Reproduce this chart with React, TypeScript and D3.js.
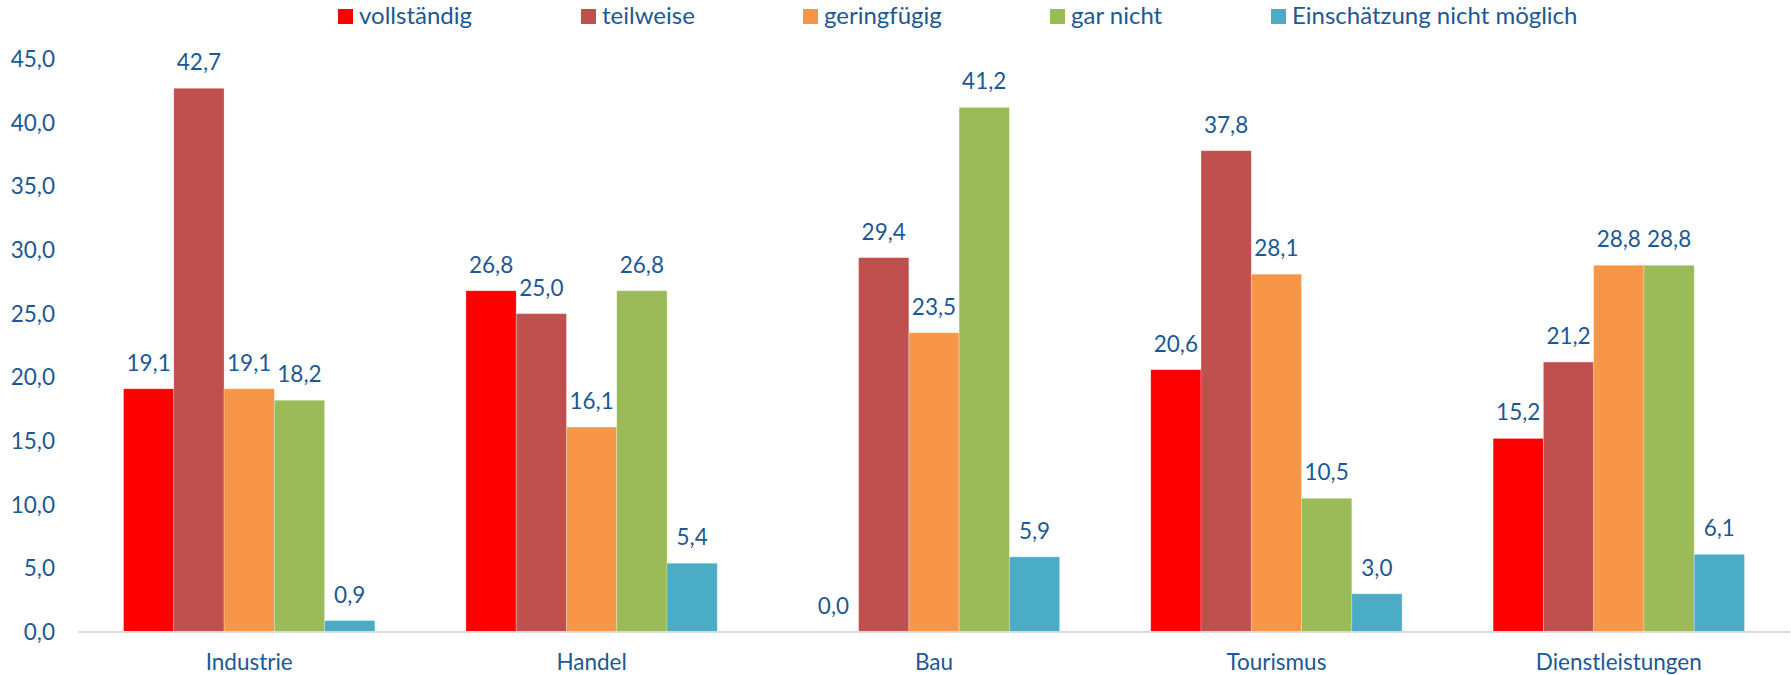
import React from "react";
import * as d3 from "d3";

const categories = ["Industrie", "Handel", "Bau", "Tourismus", "Dienstleistungen"];
const seriesNames = ["vollständig", "teilweise", "geringfügig", "gar nicht", "Einschätzung nicht möglich"];
const vollstaendig = [19.1, 26.8, 0.0, 20.6, 15.2];
const teilweise = [42.7, 25.0, 29.4, 37.8, 21.2];
const geringfuegig = [19.1, 16.1, 23.5, 28.1, 28.8];
const garNicht = [18.2, 26.8, 41.2, 10.5, 28.8];
const nichtMoeglich = [0.9, 5.4, 5.9, 3.0, 6.1];
const yTicks = [0, 5, 10, 15, 20, 25, 30, 35, 40, 45];

const colors = ["#ff0000", "#c0504d", "#f79646", "#9bbb59", "#4bacc6"];
const legendX = [338, 581, 803, 1050, 1271];
const textColor = "#1b5896";
const font = "Lato, 'Noto Sans', sans-serif";

const width = 1791;
const height = 675;
const margin = { top: 59, right: 1, bottom: 43, left: 78 };

const locale = d3.formatLocale({ decimal: ",", thousands: ".", grouping: [3], currency: ["", "€"] });
const fmt = locale.format(".1f");

export default function App() {
  const values = [vollstaendig, teilweise, geringfuegig, garNicht, nichtMoeglich];

  const x0 = d3.scaleBand<string>()
    .domain(categories)
    .range([margin.left, width - margin.right])
    .paddingInner(0.266)
    .paddingOuter(0.133);

  const x1 = d3.scaleBand<string>()
    .domain(seriesNames)
    .range([0, x0.bandwidth()]);

  const y = d3.scaleLinear()
    .domain([0, 45])
    .range([height - margin.bottom, margin.top]);

  return (
    <svg width={width} height={height} style={{ position: "absolute", left: 0, top: 0 }} fontFamily={font}>
      <rect width={width} height={height} fill="#ffffff" />

      {/* legend */}
      {seriesNames.map((s, i) => (
        <g key={s} transform={`translate(${legendX[i]},0)`}>
          <rect x={0} y={9} width={15} height={15} fill={colors[i]} />
          <text x={21} y={24} fontSize={24} fill={textColor}>{s}</text>
        </g>
      ))}

      {/* y axis labels */}
      {yTicks.map((t) => (
        <text key={t} x={55} y={y(t)} dy="0.35em" textAnchor="end" fontSize={22.5} fill={textColor}>
          {fmt(t)}
        </text>
      ))}

      {/* bars */}
      {categories.map((c, ci) => (
        <g key={c} transform={`translate(${x0(c)},0)`}>
          {seriesNames.map((s, si) => {
            const v = values[si][ci];
            return (
              <g key={s}>
                <rect
                  x={x1(s)}
                  y={y(v)}
                  width={x1.bandwidth()}
                  height={y(0) - y(v)}
                  fill={colors[si]}
                  stroke="#ffffff"
                  strokeOpacity={0.35}
                  strokeWidth={0.75}
                />
                <text
                  x={(x1(s) as number) + x1.bandwidth() / 2}
                  y={y(v) - 18}
                  textAnchor="middle"
                  fontSize={22.5}
                  fill={textColor}
                >
                  {fmt(v)}
                </text>
              </g>
            );
          })}
        </g>
      ))}

      {/* x axis */}
      <line x1={margin.left} x2={width - margin.right} y1={y(0)} y2={y(0)} stroke="#d9d9d9" strokeWidth={2} />
      {categories.map((c) => (
        <text
          key={c}
          x={(x0(c) as number) + x0.bandwidth() / 2}
          y={670}
          textAnchor="middle"
          fontSize={22.5}
          fill={textColor}
        >
          {c}
        </text>
      ))}
    </svg>
  );
}
